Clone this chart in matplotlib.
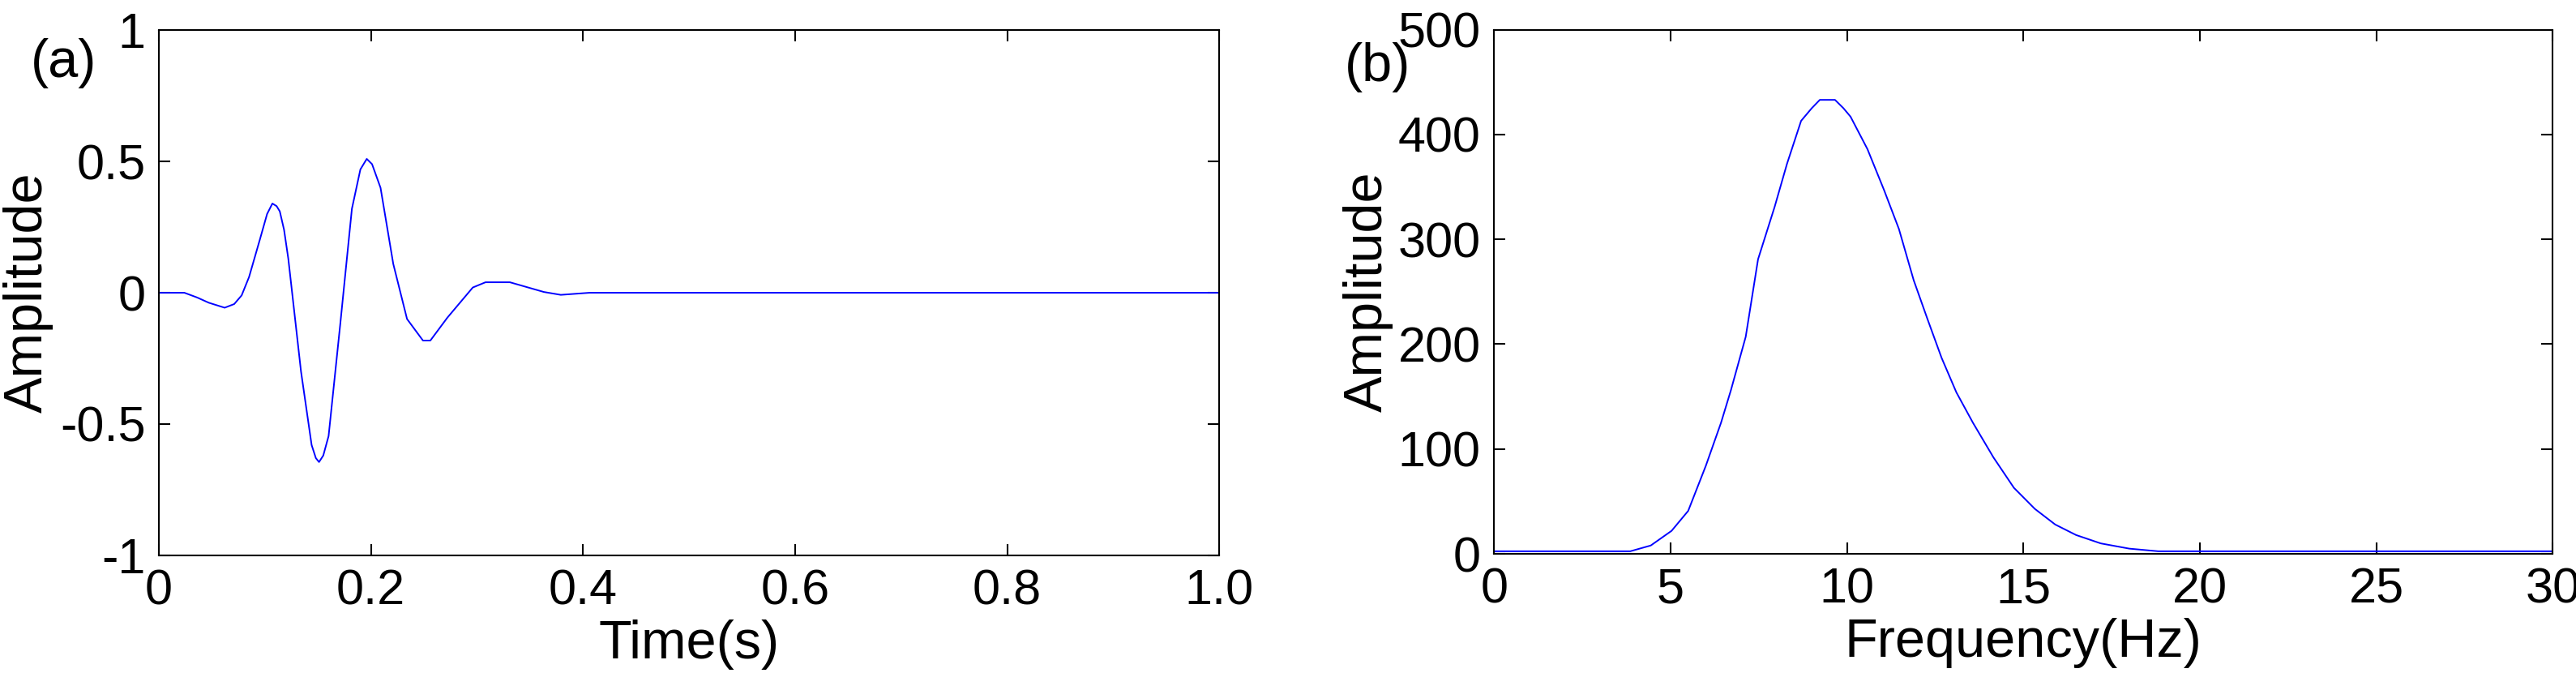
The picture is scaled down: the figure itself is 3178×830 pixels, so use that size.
import matplotlib
matplotlib.use("Agg")
import matplotlib.pyplot as plt
import numpy as np

t = [0, 0.024, 0.036, 0.047, 0.062, 0.071, 0.078, 0.085, 0.095, 0.102, 0.107, 0.111, 0.114, 0.118, 0.122,
     0.134, 0.144, 0.148, 0.151, 0.155, 0.16, 0.171, 0.182, 0.19, 0.196, 0.201, 0.209, 0.221,
     0.234, 0.249, 0.256, 0.272, 0.296, 0.308, 0.331, 0.363, 0.379, 0.406, 1.0]
amp = [0, 0, -0.018, -0.038, -0.057, -0.043, -0.01, 0.06, 0.2, 0.3, 0.34, 0.33, 0.31, 0.24, 0.13,
       -0.3, -0.58, -0.63, -0.645, -0.62, -0.546, -0.12, 0.32, 0.47, 0.51, 0.49, 0.4, 0.11,
       -0.1, -0.182, -0.182, -0.095, 0.02, 0.04, 0.04, 0.003, -0.008, 0, 0]

freq = [0, 3.86, 4.44, 5.03, 5.5, 6.0, 6.43, 6.71, 7.13, 7.48, 7.95, 8.3, 8.7, 9.0, 9.23, 9.66,
        9.9, 10.1, 10.58, 11.05, 11.47, 11.89, 12.28, 12.68, 13.1, 13.57, 14.15, 14.73, 15.32,
        15.9, 16.49, 17.19, 18.0, 18.82, 30]
spec = [2.5, 2.5, 8, 22, 41, 84, 125, 156, 207, 281, 331, 372, 413, 425, 433, 433, 425, 417, 386,
        347, 310, 261, 224, 187, 154, 125, 92, 63, 43, 28, 18, 10, 5, 2.5, 2.5]

xt_a = [0, 0.2, 0.4, 0.6, 0.8, 1.0]
xl_a = ["0", "0.2", "0.4", "0.6", "0.8", "1.0"]
yt_a = [-1, -0.5, 0, 0.5, 1]
yl_a = ["-1", "-0.5", "0", "0.5", "1"]
xt_b = [0, 5, 10, 15, 20, 25, 30]
yt_b = [0, 100, 200, 300, 400, 500]

tickfont = ["Liberation Sans Narrow", "Liberation Sans", "DejaVu Sans"]
labfont = ["Liberation Sans", "DejaVu Sans"]
TS = 44

fig = plt.figure(figsize=(31.78, 8.3), dpi=100)
ax1 = fig.add_axes([0.0617, 0.175, 0.4116, 0.78])
ax2 = fig.add_axes([0.580, 0.177, 0.411, 0.779])

for ax in (ax1, ax2):
    ax.tick_params(direction="in", top=True, right=True, length=10, width=1.5, pad=12)
    for s in ax.spines.values():
        s.set_linewidth(1.5)

ax1.plot(t, amp, color="#0000ff", lw=1.4)
ax1.set_xlim(0, 1.0); ax1.set_ylim(-1, 1)
ax1.set_xticks(xt_a); ax1.set_xticklabels(xl_a, family=tickfont, fontsize=TS)
ax1.set_yticks(yt_a); ax1.set_yticklabels(yl_a, family=tickfont, fontsize=TS)
ax1.set_xlabel("Time(s)", family=tickfont, fontsize=48, labelpad=4)
ax1.set_ylabel("Amplitude", family=labfont, fontsize=48, labelpad=6)
fig.text(0.012, 0.885, "(a)", family=tickfont, fontsize=48)

ax2.plot(freq, spec, color="#0000ff", lw=1.4)
ax2.set_xlim(0, 30); ax2.set_ylim(0, 500)
ax2.set_xticks(xt_b); ax2.set_xticklabels([str(v) for v in xt_b], family=tickfont, fontsize=TS)
ax2.set_yticks(yt_b); ax2.set_yticklabels([str(v) for v in yt_b], family=tickfont, fontsize=TS)
ax2.set_xlabel("Frequency(Hz)", family=tickfont, fontsize=48, labelpad=4)
ax2.set_ylabel("Amplitude", family=labfont, fontsize=48, labelpad=4)
fig.text(0.522, 0.88, "(b)", family=tickfont, fontsize=48)

fig.savefig("out.png", dpi=100, facecolor="white")
